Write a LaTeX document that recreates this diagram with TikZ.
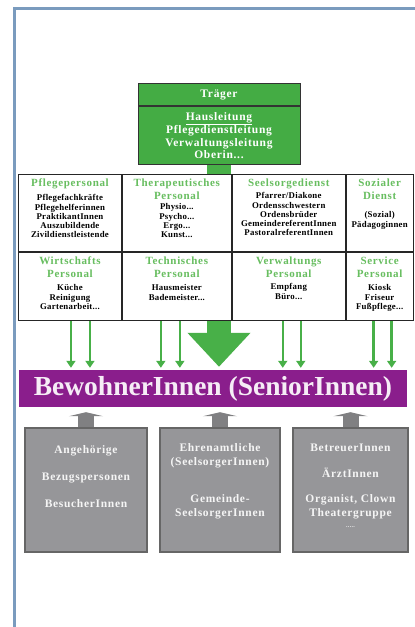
\documentclass[tikz,border=0pt]{standalone}
\usepackage{fontspec}
\setmainfont{Liberation Serif}
\newfontfamily\spaced{Liberation Serif}[LetterSpace=6]
\newfontfamily\itemfont{Liberation Serif}[LetterSpace=3]
\usetikzlibrary{positioning, arrows.meta, calc}
\definecolor{traegergreen}{RGB}{68,172,68}
\definecolor{headgreen}{RGB}{104,190,96}
\definecolor{arrowgreen}{RGB}{72,176,72}
\definecolor{seniorpurple}{RGB}{138,30,140}
\definecolor{boxgray}{RGB}{150,150,153}
\definecolor{framegray}{RGB}{122,155,190}

\begin{document}
\begin{tikzpicture}[x=1pt, y=-1pt,
  font=\bfseries,
  cell/.style={draw=black!85, line width=0.9pt, fill=white, anchor=north west,
    inner sep=0pt, minimum width=#1},
  colhead/.style={text=headgreen, align=center, inner sep=0pt,
    font=\spaced\fontsize{11}{12.5}\selectfont\bfseries},
  colitems/.style={align=center, inner sep=0pt,
    font=\itemfont\fontsize{8.8}{9.2}\selectfont\bfseries},
  traegerbox/.style={draw=black!80, line width=1pt, fill=traegergreen, text=white,
    align=center, minimum width=162, inner sep=0pt},
  senior/.style={fill=seniorpurple, text=white!92!seniorpurple, minimum width=388,
    minimum height=37, inner sep=0pt, font=\fontsize{27.5}{30}\selectfont\bfseries},
  grayblock/.style={draw=black!60, line width=1.2pt, fill=boxgray,
    minimum width=#1, minimum height=124, inner sep=0pt},
  graytext/.style={text=white!90!boxgray, align=center, inner sep=0pt,
    font=\spaced\fontsize{11.5}{14}\selectfont\bfseries},
  smallarrow/.style={arrowgreen, line width=2.5pt, shorten >=2pt,
    -{Triangle[length=7pt, width=9pt]}},
  bigarrow/.style={arrowgreen, line width=24pt, shorten >=3pt,
    -{Triangle[length=34pt, width=61pt]}},
  grayarrow/.style={boxgray!85!black, line width=16pt, shorten >=5pt,
    -{Triangle[length=4pt, width=34pt]}}
]
  \useasboundingbox (0,0) rectangle (415,627);
  \draw[framegray, line width=3pt] (14,627) -- (14,8) -- (415,8);

  % Traeger
  \node[traegerbox, minimum height=22, anchor=north,
    font=\spaced\fontsize{11.5}{13}\selectfont\bfseries] (traeger) at (219,83) {Träger};
  \node[traegerbox, minimum height=58, anchor=north,
    font=\spaced\fontsize{11.5}{12.4}\selectfont\bfseries] (leitung) at (traeger.south)
    {\underline{Hausleitung}\\Pflegedienstleitung\\Verwaltungsleitung\\Oberin...};

  \node[senior] (bewohner) at (213,388.5) {BewohnerInnen (SeniorInnen)};
  \draw[bigarrow] (leitung.south) -- (leitung.south |- bewohner.north);

  % Personalgruppen, erste Reihe
  \node[cell=103, minimum height=77] (pfl) at (18,174) {};
  \node[cell=109, minimum height=77] (ther) at (pfl.north east) {};
  \node[cell=113, minimum height=77] (seel) at (ther.north east) {};
  \node[cell=67, minimum height=77] (soz) at (seel.north east) {};

  \node[colhead, below=5pt of pfl.north] (pflhead) {Pflegepersonal};
  \node[colitems, below=5pt of pflhead] (pflitems)
    {Pflegefachkräfte\\Pflegehelferinnen\\PraktikantInnen\\Auszubildende\\Zivildienstleistende};
  \node[colhead, below=5pt of ther.north] (therhead) {Therapeutisches\\Personal};
  \node[colitems, below=4pt of therhead] (theritems)
    {Physio...\\Psycho...\\Ergo...\\Kunst...};
  \node[colhead, below=5pt of seel.north] (seelhead) {Seelsorgedienst};
  \node[colitems, below=3pt of seelhead] (seelitems)
    {Pfarrer/Diakone\\Ordensschwestern\\Ordensbrüder\\GemeindereferentInnen\\PastoralreferentInnen};
  \node[colhead, below=5pt of soz.north] (sozhead) {Sozialer\\Dienst};
  \node[colitems, below=12pt of sozhead] (sozitems) {(Sozial)\\Pädagoginnen};

  % zweite Reihe
  \node[cell=103, minimum height=68] (wirt) at (pfl.south west) {};
  \node[cell=109, minimum height=68] (tech) at (wirt.north east) {};
  \node[cell=113, minimum height=68] (verw) at (tech.north east) {};
  \node[cell=67, minimum height=68] (serv) at (verw.north east) {};

  \node[colhead, below=5pt of wirt.north] (wirthead) {Wirtschafts\\Personal};
  \node[colitems, below=7pt of wirthead] (wirtitems) {Küche\\Reinigung\\Gartenarbeit...};
  \node[colhead, below=5pt of tech.north] (techhead) {Technisches\\Personal};
  \node[colitems, below=7pt of techhead] (techitems) {Hausmeister\\Bademeister...};
  \node[colhead, below=5pt of verw.north] (verwhead) {Verwaltungs\\Personal};
  \node[colitems, below=6pt of verwhead] (verwitems) {Empfang\\Büro...};
  \node[colhead, below=5pt of serv.north] (servhead) {Service\\Personal};
  \node[colitems, below=7pt of servhead] (servitems) {Kiosk\\Friseur\\Fußpflege...};

  \foreach \c/\dx in {wirt/1, wirt/20, tech/-16, tech/3, verw/-6, verw/12, serv/-6, serv/12}
    \draw[smallarrow] ($(\c.south)+(\dx,0)$) -- ($(\c.south |- bewohner.north)+(\dx,0)$);

  % Unterstuetzung von aussen
  \node[grayblock=122] (angeh) at (86,490) {};
  \node[grayblock=120] (ehren) at (220,490) {};
  \node[grayblock=115] (betreu) at (350.5,490) {};

  \node[graytext, below=18pt of angeh.north] (angehtxt)
    {Angehörige\\[13pt]Bezugspersonen\\[13pt]BesucherInnen};
  \node[graytext, below=16pt of ehren.north] (ehrentxt)
    {Ehrenamtliche\\(SeelsorgerInnen)\\[23pt]Gemeinde-\\SeelsorgerInnen};
  \node[graytext, below=16pt of betreu.north] (betreutxt)
    {BetreuerInnen\\[12pt]ÄrztInnen\\[11pt]Organist, Clown\\Theatergruppe\\[-3pt]{\fontsize{6}{7}\selectfont .....}};

  \foreach \b in {angeh, ehren, betreu}
    \draw[grayarrow] (\b.north) -- (\b.north |- bewohner.south);
\end{tikzpicture}
\end{document}
